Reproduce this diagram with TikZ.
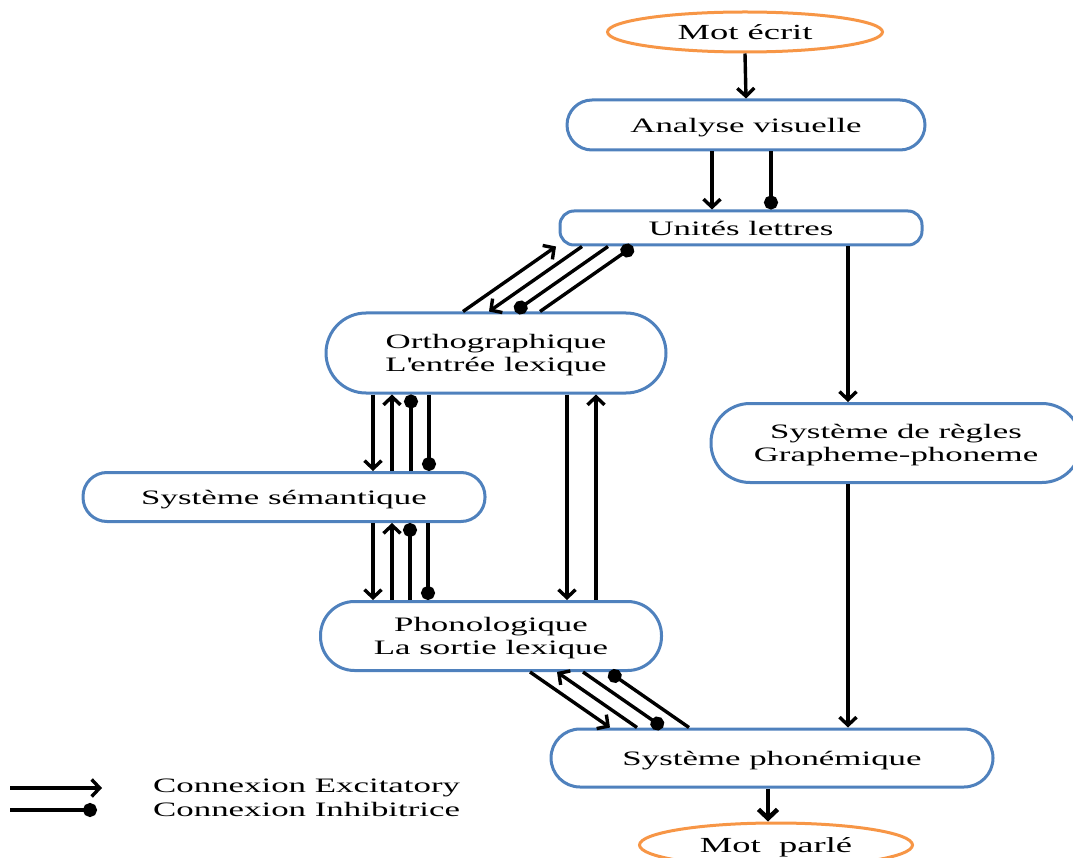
\documentclass[tikz,border=0pt]{standalone}
\usepackage{fontspec}
\setmainfont{Liberation Serif}[FakeStretch=1.7]
\usetikzlibrary{arrows.meta,shapes.geometric}
\definecolor{boxblue}{RGB}{79,129,189}
\definecolor{orng}{RGB}{247,150,70}
\tikzset{
  txt/.style={font=\fontsize{20.5}{23}\selectfont, align=center, inner sep=0pt},
  box/.style={txt, draw=boxblue, line width=3pt, fill=white, text depth=0pt},
  oval/.style={txt, ellipse, draw=orng, line width=3pt, fill=white, text depth=0pt, font=\fontsize{21.5}{24}\selectfont},
  exc/.style={line width=3.4pt, -{Straight Barb[length=8pt,width=17pt]}},
  inh/.style={line width=3.4pt, -{Circle[length=14pt]}},
  big/.style={line width=4.5pt, -{Straight Barb[length=9pt,width=19pt]}},
}
\begin{document}
\begin{tikzpicture}[x=1pt,y=-1pt]
\useasboundingbox (0,0) rectangle (1073,858);
% nodes
\node[oval, minimum width=275pt, minimum height=40pt] (motecrit) at (745,32) {Mot écrit};
\node[box, minimum width=358pt, minimum height=50pt, rounded corners=25pt] (analyse) at (746,125) {Analyse visuelle};
\node[box, minimum width=362pt, minimum height=34pt, rounded corners=14pt] (unites) at (741,228) {Unités lettres};
\node[box, minimum width=340pt, minimum height=80pt, rounded corners=40pt] (ortho) at (496,353) {Orthographique\\L\textquotesingle entrée lexique};
\node[box, minimum width=370pt, minimum height=79pt, rounded corners=39pt] (regles) at (896,443) {Système de règles\\Grapheme-phoneme};
\node[box, minimum width=402pt, minimum height=49pt, rounded corners=24pt] (sem) at (284,497) {Système sémantique};
\node[box, minimum width=341pt, minimum height=69pt, rounded corners=34pt] (phono) at (491,636) {Phonologique\\La sortie lexique};
\node[box, minimum width=442pt, minimum height=58pt, rounded corners=29pt] (phonem) at (772,758) {Système phonémique};
\node[oval, minimum width=273pt, minimum height=44pt] (motparle) at (776,845) {Mot~ parlé};
% vertical connectors
\draw[exc] (motecrit.south) -- (analyse.north);
\draw[exc] (analyse.south -| 712,0) -- (unites.north -| 712,0);
\draw[inh] (analyse.south -| 771,0) -- (unites.north -| 771,0);
\draw[exc] (unites.south -| 848,0) -- (regles.north -| 848,0);
\draw[exc] (regles.south -| 848,0) -- (phonem.north -| 848,0);
\draw[big] (phonem.south -| 768,0) -- (motparle.north -| 768,0);
% unites <-> ortho
\draw[exc] (ortho.north -| 463,0) -- (unites.south -| 556,0);
\draw[exc] (unites.south -| 582,0) -- (ortho.north -| 489,0);
\draw[inh] (unites.south -| 608,0) -- (ortho.north -| 515,0);
\draw[inh] (ortho.north -| 540,0) -- (unites.south -| 633,0);
% ortho <-> sem
\draw[exc] (ortho.south -| 373,0) -- (sem.north -| 373,0);
\draw[exc] (sem.north -| 392,0) -- (ortho.south -| 392,0);
\draw[inh] (sem.north -| 411,0) -- (ortho.south -| 411,0);
\draw[inh] (ortho.south -| 429,0) -- (sem.north -| 429,0);
% sem <-> phono
\draw[exc] (sem.south -| 373,0) -- (phono.north -| 373,0);
\draw[exc] (phono.north -| 392,0) -- (sem.south -| 392,0);
\draw[inh] (phono.north -| 410,0) -- (sem.south -| 410,0);
\draw[inh] (sem.south -| 428,0) -- (phono.north -| 428,0);
% ortho <-> phono
\draw[exc] (ortho.south -| 567,0) -- (phono.north -| 567,0);
\draw[exc] (phono.north -| 596,0) -- (ortho.south -| 596,0);
% phono <-> phonem
\draw[exc] (phono.south -| 530,0) -- (phonem.north -| 610,0);
\draw[exc] (phonem.north -| 637,0) -- (phono.south -| 557,0);
\draw[inh] (phono.south -| 583,0) -- (phonem.north -| 663,0);
\draw[inh] (phonem.north -| 689,0) -- (phono.south -| 609,0);
% legend
\coordinate (le1) at (10,788);
\coordinate (le2) at (102,788);
\coordinate (li1) at (10,810);
\coordinate (li2) at (97,810);
\draw[exc] (le1) -- (le2);
\draw[inh] (li1) -- (li2);
\node[txt, anchor=west] (lexc) at (153,788) {Connexion Excitatory};
\node[txt, anchor=west] (linh) at (153,809) {Connexion Inhibitrice};
\end{tikzpicture}
\end{document}
